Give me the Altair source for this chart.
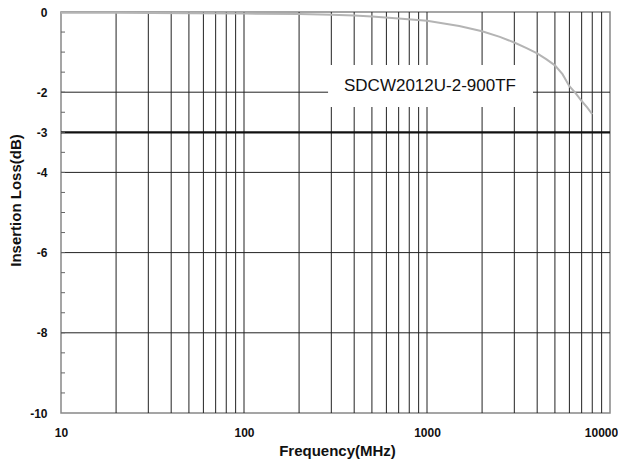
import altair as alt
import pandas as pd

# Curve data
freq_mhz = [10, 20, 50, 100, 200, 300, 400, 500, 700, 1000, 1500, 2000, 2500,
            3000, 3500, 4000, 4500, 5000, 5500, 6000, 6500, 7000, 7500, 8000]
loss_db = [-0.02, -0.02, -0.03, -0.04, -0.05, -0.07, -0.09, -0.11, -0.16, -0.22,
           -0.35, -0.48, -0.62, -0.76, -0.90, -1.03, -1.18, -1.33, -1.55, -1.85,
           -2.03, -2.22, -2.38, -2.55]

x_grid = [20, 30, 40, 50, 60, 70, 80, 90, 100, 200, 300, 400, 500, 600, 700, 800,
          900, 1000, 2000, 3000, 4000, 5000, 6000, 7000, 8000, 9000]
y_grid = [-2, -4, -6, -8]
y_ref = [-3]
y_minor = [v / 2 for v in range(-19, 0)]
x_labels = [10, 100, 1000, 10000]
y_labels = [0, -2, -3, -4, -6, -8, -10]

label_text = ["SDCW2012U-2-900TF"]
label_box_f = [288, 3795]
label_box_db = [-1.32, -2.37]
label_pos_f = [1038]
label_pos_db = [-1.85]

curve = pd.DataFrame({"f": freq_mhz, "loss": loss_db})
xs = alt.Scale(type="log", domain=[10, 10000], nice=False)
ys = alt.Scale(domain=[-10, 0], nice=False)

FONT = "Liberation Sans"

xaxis = alt.Axis(values=x_labels, grid=False, ticks=False, domain=False,
                 labelFont=FONT, labelFontWeight="bold", labelFontSize=12,
                 labelColor="#111", labelPadding=14, format="d",
                 labelFlush=False,
                 labelOffset={"condition": {"test": "datum.value == 10000",
                                            "value": -9}, "value": 0},
                 title="Frequency(MHz)", titleFont=FONT, titleFontWeight="bold",
                 titleFontSize=15, titleColor="#111", titleY=37, titleX=276,
                 titleBaseline="middle")
yaxis = alt.Axis(values=y_labels, grid=False, ticks=False, domain=False,
                 labelFont=FONT, labelFontWeight="bold", labelFontSize=12,
                 labelColor="#111", labelPadding=14,
                 labelExpr="datum.value < 0 ? '-' + abs(datum.value) : '' + datum.value",
                 title="Insertion Loss(dB)", titleFont=FONT, titleFontWeight="bold",
                 titleFontSize=15, titleColor="#111", titleAngle=-90,
                 titleX=-46, titleY=188, titleAlign="center",
                 titleBaseline="middle")

vgrid = alt.Chart(pd.DataFrame({"f": x_grid})).mark_rule(
    color="#222", strokeWidth=1).encode(
    x=alt.X("f:Q", scale=xs, axis=xaxis))
hgrid = alt.Chart(pd.DataFrame({"v": y_grid})).mark_rule(
    color="#222", strokeWidth=1).encode(
    y=alt.Y("v:Q", scale=ys, axis=yaxis))
href = alt.Chart(pd.DataFrame({"v": y_ref})).mark_rule(
    color="#111", strokeWidth=2.2).encode(
    y=alt.Y("v:Q", scale=ys))
minor = alt.Chart(pd.DataFrame({"v": y_minor})).mark_rule(
    color="#666", strokeWidth=1).encode(
    y=alt.Y("v:Q", scale=ys), x=alt.value(0), x2=alt.value(4))

box = alt.Chart(pd.DataFrame({
    "f1": [label_box_f[0]], "f2": [label_box_f[1]],
    "d1": [label_box_db[0]], "d2": [label_box_db[1]]})).mark_rect(
    color="white").encode(
    x=alt.X("f1:Q", scale=xs), x2="f2:Q",
    y=alt.Y("d1:Q", scale=ys), y2="d2:Q")
txt = alt.Chart(pd.DataFrame({
    "f": label_pos_f, "d": label_pos_db, "t": label_text})).mark_text(
    font=FONT, fontSize=17, color="#111", align="center",
    baseline="middle").encode(
    x=alt.X("f:Q", scale=xs), y=alt.Y("d:Q", scale=ys), text="t:N")

line = alt.Chart(curve).mark_line(color="#b4b4b4", strokeWidth=2).encode(
    x=alt.X("f:Q", scale=xs), y=alt.Y("loss:Q", scale=ys))

chart = alt.layer(vgrid, hgrid, href, minor, box, txt, line).properties(
    width=549, height=401,
    autosize=alt.AutoSizeParams(type="none"),
    padding={"left": 53, "top": 4, "right": 8, "bottom": 47},
    background="white",
).configure_view(stroke="#888", strokeWidth=1.5)

chart.save("out.html", embed_options={"renderer": "svg", "actions": False})
